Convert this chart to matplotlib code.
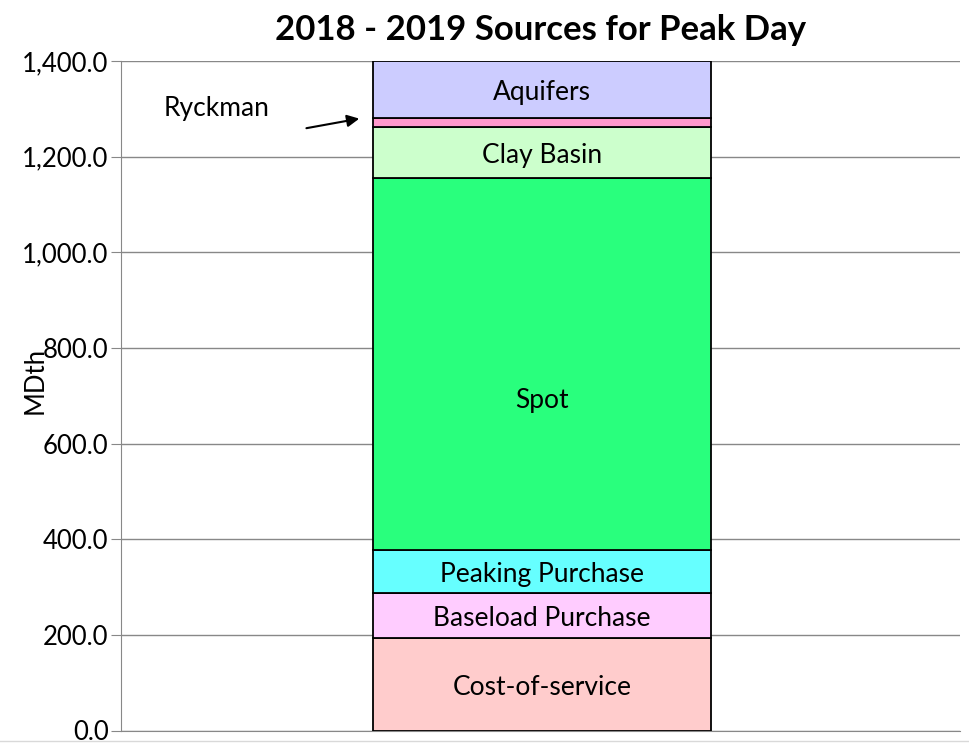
import matplotlib.pyplot as plt
from matplotlib.lines import Line2D

plt.rcParams['font.family'] = ['Lato', 'DejaVu Sans']

sources = ['Cost-of-service', 'Baseload Purchase', 'Peaking Purchase', 'Spot',
           'Clay Basin', 'Ryckman', 'Aquifers']
mdth = [193.4, 94.1, 90.0, 777.9, 106.6, 19.0, 119.0]
colors = ['#FFCCCC', '#FFCCFF', '#66FFFF', '#29FF7D', '#CCFFCC', '#FF99CC', '#CCCCFF']
yticks = [0, 200, 400, 600, 800, 1000, 1200, 1400]

fig = plt.figure(figsize=(9.69, 7.45), dpi=100)
ax = fig.add_axes([121/969, 1 - 730.5/745, 839/969, 669.5/745])

bottom = 0
for name, val, col in zip(sources, mdth, colors):
    ax.bar(0, val, width=0.403, bottom=bottom, color=col, edgecolor='black',
           linewidth=1.3, zorder=3)
    # Spot label sits a bit below the middle of its segment
    frac = 0.41 if name == 'Spot' else 0.5
    if name != 'Ryckman':
        ax.text(0, bottom + val * frac - 6, name, ha='center', va='center',
                fontsize=19, zorder=4)
    bottom += val

ax.set_xlim(-0.502, 0.498)
ax.set_ylim(0, 1400)
ax.set_yticks(yticks)
ax.set_yticklabels(['{:,.1f}'.format(v) for v in yticks], fontsize=18.5)
ax.set_xticks([])
ax.tick_params(axis='y', direction='out', length=7, color='#888888', pad=2)
ax.yaxis.grid(True, color='#888888', linewidth=1, zorder=0)
for s in ['top', 'right']:
    ax.spines[s].set_visible(False)
for s in ['left', 'bottom']:
    ax.spines[s].set_color('#888888')

ax.set_ylabel('MDth', fontsize=18.5)
ax.yaxis.set_label_coords(-0.088, 0.523)

ax.set_title('2018 - 2019 Sources for Peak Day', fontsize=25, fontweight='bold',
             pad=15)

ryck_mid = sum(mdth[:5]) + mdth[5] / 2
ax.annotate('', xy=(-0.218, ryck_mid + 8), xytext=(-0.281, ryck_mid - 12),
            arrowprops=dict(arrowstyle='-|>', color='black', lw=1.5,
                            mutation_scale=18, shrinkA=0, shrinkB=0))
ax.text(-0.388, 1300, 'Ryckman', fontsize=19, ha='center', va='center')

fig.add_artist(Line2D([0, 1], [1 - 741/745, 1 - 741/745], color='#D9D9D9', lw=1))

fig.savefig('out.png', dpi=100)
